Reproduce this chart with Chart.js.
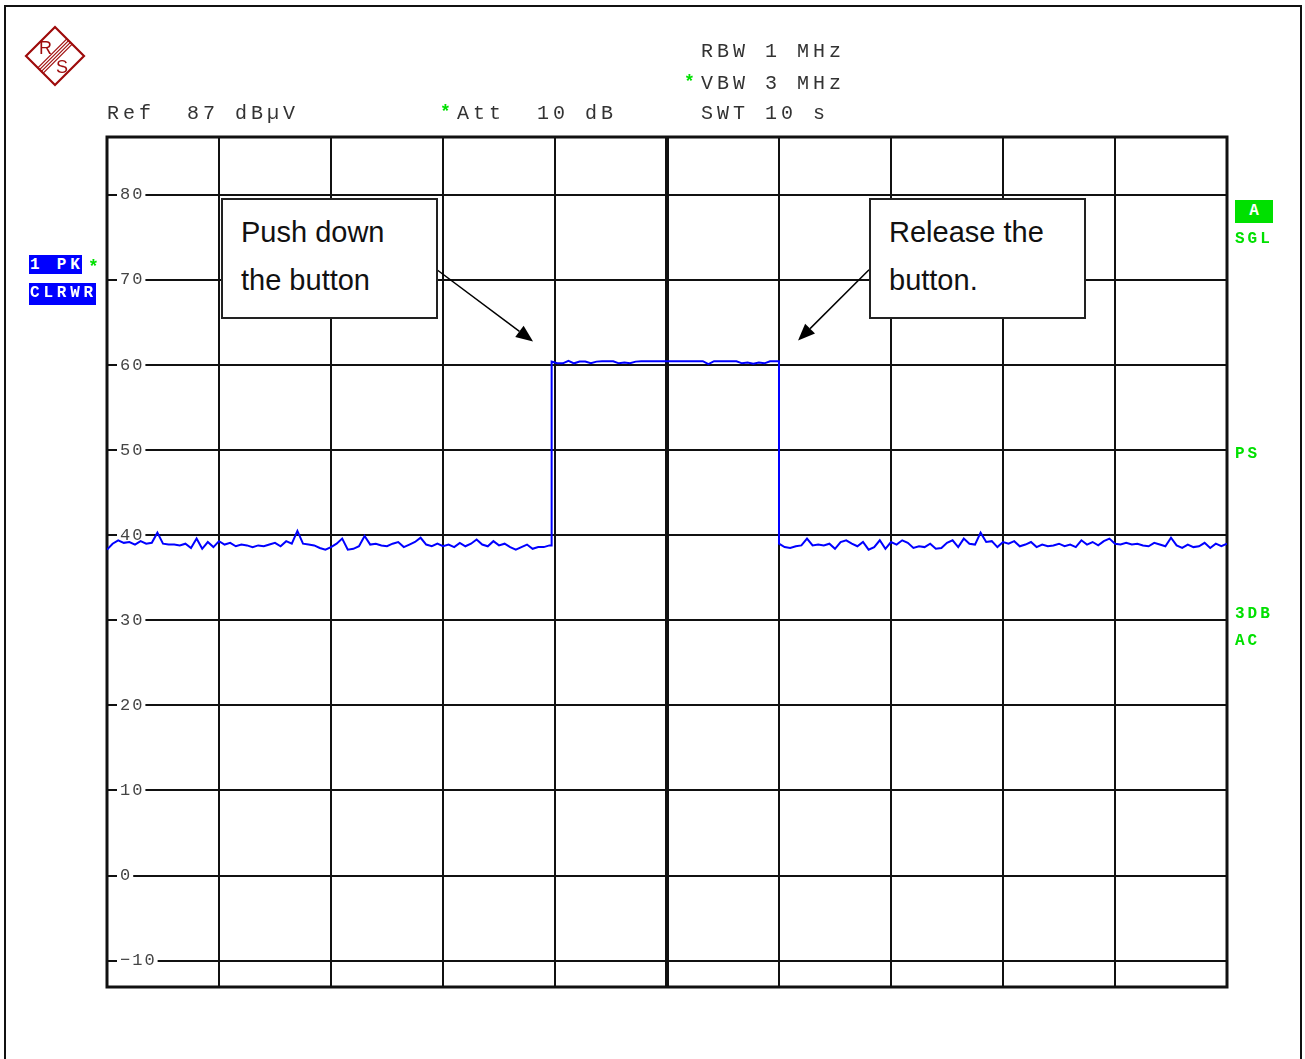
<!DOCTYPE html>
<html><head><meta charset="utf-8">
<script src="https://cdn.jsdelivr.net/npm/chart.js@4.4.1/dist/chart.umd.min.js"></script>
<style>
html,body{margin:0;padding:0;background:#fff;}
body{width:1305px;height:1059px;position:relative;overflow:hidden;}
#frame{position:absolute;left:4px;top:5px;width:1298px;height:1100px;border:2px solid #111;box-sizing:border-box;}
#c{position:absolute;left:0;top:0;}
.hdr{position:absolute;font-family:'Liberation Mono',monospace;font-size:20px;line-height:20px;letter-spacing:4px;color:#333;white-space:pre;}
.gstar{position:absolute;font-family:'Liberation Mono',monospace;font-weight:bold;font-size:18px;line-height:18px;color:#00e000;}
.blue{position:absolute;left:29px;background:#0000ff;color:#fff;font-family:'Liberation Mono',monospace;font-weight:bold;font-size:16px;line-height:21px;letter-spacing:3.8px;white-space:pre;padding-left:1px;box-sizing:border-box;overflow:hidden;}
.grn{position:absolute;left:1235px;color:#00e000;font-family:'Liberation Mono',monospace;font-weight:bold;font-size:16px;line-height:16px;letter-spacing:3px;white-space:pre;}
.note{position:absolute;top:198px;width:217px;height:121px;border:2px solid #222;background:#fff;box-sizing:border-box;font-family:'Liberation Sans',Arial,sans-serif;font-size:29px;line-height:47.5px;color:#111;padding:9px 0 0 18px;white-space:pre;}
</style></head>
<body>
<div id="frame"></div>
<canvas id="c" width="1305" height="1059"></canvas>

<svg style="position:absolute;left:24px;top:25px" width="64" height="64" viewBox="0 0 64 64">
  <polygon points="31,2 60,31 31,60 2,31" fill="none" stroke="#9e0b0b" stroke-width="2.2"/>
  <g stroke="#9e0b0b" stroke-width="1.2">
    <line x1="42.8" y1="13.8" x2="13.8" y2="42.8"/>
    <line x1="44.6" y1="15.6" x2="15.6" y2="44.6"/>
    <line x1="46.4" y1="17.4" x2="17.4" y2="46.4"/>
    <line x1="48.2" y1="19.2" x2="19.2" y2="48.2"/>
  </g>
  <text x="15" y="29" font-family="Liberation Sans,Arial" font-size="18" fill="#9e0b0b">R</text>
  <text x="32" y="48" font-family="Liberation Sans,Arial" font-size="18" fill="#9e0b0b">S</text>
</svg>

<div class="hdr" style="left:107px;top:104px">Ref  87 dBµV</div>
<div class="gstar" style="left:440px;top:103px">*</div>
<div class="hdr" style="left:457px;top:104px">Att  10 dB</div>
<div class="hdr" style="left:701px;top:42px">RBW 1 MHz</div>
<div class="gstar" style="left:684px;top:73px">*</div>
<div class="hdr" style="left:701px;top:74px">VBW 3 MHz</div>
<div class="hdr" style="left:701px;top:104px">SWT 10 s</div>

<div class="blue" style="top:255px;width:53px;height:19px">1 PK</div>
<div class="gstar" style="left:88px;top:258px">*</div>
<div class="blue" style="top:283px;width:67px;height:22px">CLRWR</div>

<div class="grn" style="top:200px;width:38px;height:23px;background:#00e000;color:#fff;text-align:center;line-height:23px;letter-spacing:0">A</div>
<div class="grn" style="top:231px">SGL</div>
<div class="grn" style="top:446px">PS</div>
<div class="grn" style="top:606px">3DB</div>
<div class="grn" style="top:633px">AC</div>

<div class="note" style="left:221px">Push down
the button</div>
<div class="note" style="left:869px">Release the
button.</div>

<script>
// ---- data ----
const sweepStep = 0.05;           // seconds between trace samples
const riseTime = 3.97;            // s, button pushed
const fallTime = 6.0;             // s, button released
const xDivisions = [0,1,2,3,4,5,6,7,8,9,10];
const yTicks = [-10,0,10,20,30,40,50,60,70,80];

// noise floor before the button press (dBµV), t = 0 … 3.95 s
const leftNoise = [
 38.3,39.0,39.4,39.1,39.2,38.9,39.3,39.0,39.1,40.3,
 39.0,38.9,38.9,38.8,39.0,38.5,39.6,38.4,39.2,38.6,
 39.3,38.9,39.1,38.7,38.9,38.8,38.6,38.8,38.7,38.9,
 39.1,38.7,39.3,39.0,40.5,39.0,38.9,38.8,38.5,38.3,
 38.6,39.0,39.6,38.3,38.4,38.7,39.9,38.9,39.0,38.8,
 38.7,39.0,39.2,38.6,38.9,39.2,39.7,38.9,38.7,39.0,
 38.7,38.9,38.6,39.1,38.7,39.0,39.5,38.9,38.7,39.3,
 38.8,39.0,38.6,38.3,38.6,38.9,38.4,38.6,38.6,38.8
];
// carrier level while the button is held (dBµV), from riseTime
const highLevel = [
 60.4,60.2,60.2,60.5,60.2,60.4,60.4,60.2,60.4,60.45,
 60.45,60.45,60.2,60.3,60.2,60.4,60.45,60.45,60.45,60.45,
 60.45,60.45,60.45,60.45,60.45,60.45,60.45,60.45,60.1,60.45,
 60.45,60.45,60.45,60.45,60.2,60.3,60.15,60.3,60.2,60.45
];
// noise floor after release (dBµV), t = 6.00 … 10.00 s
const rightNoise = [
 39.0,38.6,38.5,38.7,38.8,39.6,38.8,38.9,38.8,39.0,
 38.4,39.2,39.4,39.0,38.7,39.2,38.3,38.6,39.4,38.4,
 39.2,38.9,39.4,39.1,38.5,38.7,38.6,39.0,38.4,38.5,
 39.1,39.4,38.6,39.6,39.0,38.9,40.3,39.2,39.3,38.6,
 39.2,39.0,39.3,38.7,38.9,39.2,38.6,38.9,38.7,38.8,
 39.0,38.7,38.9,38.6,39.4,38.9,39.2,38.8,39.3,39.6,
 39.0,38.9,39.1,38.9,39.0,38.8,38.7,39.1,38.9,38.7,
 39.7,38.8,38.5,38.9,38.6,38.7,39.1,38.5,39.0,38.7,39.0
];

function buildTrace(){
  const pts = [];
  leftNoise.forEach((v,i)=>pts.push({x:i*sweepStep, y:v}));
  pts.push({x:riseTime, y:leftNoise[leftNoise.length-1]});
  highLevel.forEach((v,i)=>pts.push({x:riseTime+i*sweepStep, y:v}));
  pts.push({x:fallTime, y:highLevel[highLevel.length-1]});
  rightNoise.forEach((v,i)=>pts.push({x:fallTime+i*sweepStep, y:v}));
  return pts;
}

// annotation arrows in data coordinates (tail at box edge, tip near trace)
const arrowDefs = [
  {from:[2.946,71.2], to:[3.804,62.76]},
  {from:[6.804,71.2], to:[6.170,62.87]}
];

const spacingPlugin = {
  id:'spacing',
  beforeLayout(c){ c.ctx.letterSpacing='2px'; },
  beforeDraw(c){ c.ctx.letterSpacing='2px'; }
};
const framePlugin = {
  id:'frame',
  beforeDatasetsDraw(c){
    const a=c.chartArea, ctx=c.ctx;
    ctx.save(); ctx.strokeStyle='#111'; ctx.lineWidth=3;
    ctx.strokeRect(a.left, a.top, a.right-a.left, a.bottom-a.top);
    ctx.restore();
  }
};
const arrowPlugin = {
  id:'arrows',
  afterDatasetsDraw(c){
    const ctx=c.ctx, xs=c.scales.x, ys=c.scales.y;
    ctx.save();
    arrowDefs.forEach(a=>{
      const x1=xs.getPixelForValue(a.from[0]), y1=ys.getPixelForValue(a.from[1]);
      const x2=xs.getPixelForValue(a.to[0]), y2=ys.getPixelForValue(a.to[1]);
      const ang=Math.atan2(y2-y1,x2-x1), L=17, W=7;
      const bx=x2-L*Math.cos(ang), by=y2-L*Math.sin(ang);
      ctx.strokeStyle='#000'; ctx.lineWidth=1.5;
      ctx.beginPath(); ctx.moveTo(x1,y1); ctx.lineTo(bx,by); ctx.stroke();
      ctx.fillStyle='#000';
      ctx.beginPath(); ctx.moveTo(x2,y2);
      ctx.lineTo(bx+W*Math.sin(ang), by-W*Math.cos(ang));
      ctx.lineTo(bx-W*Math.sin(ang), by+W*Math.cos(ang));
      ctx.closePath(); ctx.fill();
    });
    ctx.restore();
  }
};

new Chart(document.getElementById('c'), {
  type:'line',
  data:{datasets:[{
    data: buildTrace(),
    borderColor:'#0000ff', borderWidth:2, pointRadius:0, tension:0, fill:false
  }]},
  options:{
    responsive:false, animation:false, devicePixelRatio:1,
    parsing:false,
    layout:{padding:{left:107, top:137, right:78, bottom:72}},
    plugins:{legend:{display:false}, tooltip:{enabled:false}},
    scales:{
      x:{
        type:'linear', min:0, max:10,
        afterBuildTicks:s=>{ s.ticks = xDivisions.map(v=>({value:v})); },
        afterFit:s=>{ s.height=0; },
        ticks:{display:false},
        grid:{color:'#111', lineWidth:ctx=>(ctx.tick && ctx.tick.value===5)?4:2, drawTicks:false},
        border:{display:false}
      },
      y:{
        type:'linear', min:-13.1, max:86.8,
        afterBuildTicks:s=>{ s.ticks = yTicks.map(v=>({value:v})); },
        afterFit:s=>{ s.width=0; },
        ticks:{
          mirror:true, padding:13, color:'#444',
          font:{family:'Liberation Mono', size:17},
          showLabelBackdrop:true, backdropColor:'#fff',
          backdropPadding:{top:0,bottom:0,left:3,right:1},
          callback:v=> v<0 ? '\u2212'+Math.abs(v) : String(v)
        },
        grid:{color:'#111', lineWidth:2, drawTicks:false},
        border:{display:false}
      }
    }
  },
  plugins:[spacingPlugin, framePlugin, arrowPlugin]
});
</script>
</body></html>
